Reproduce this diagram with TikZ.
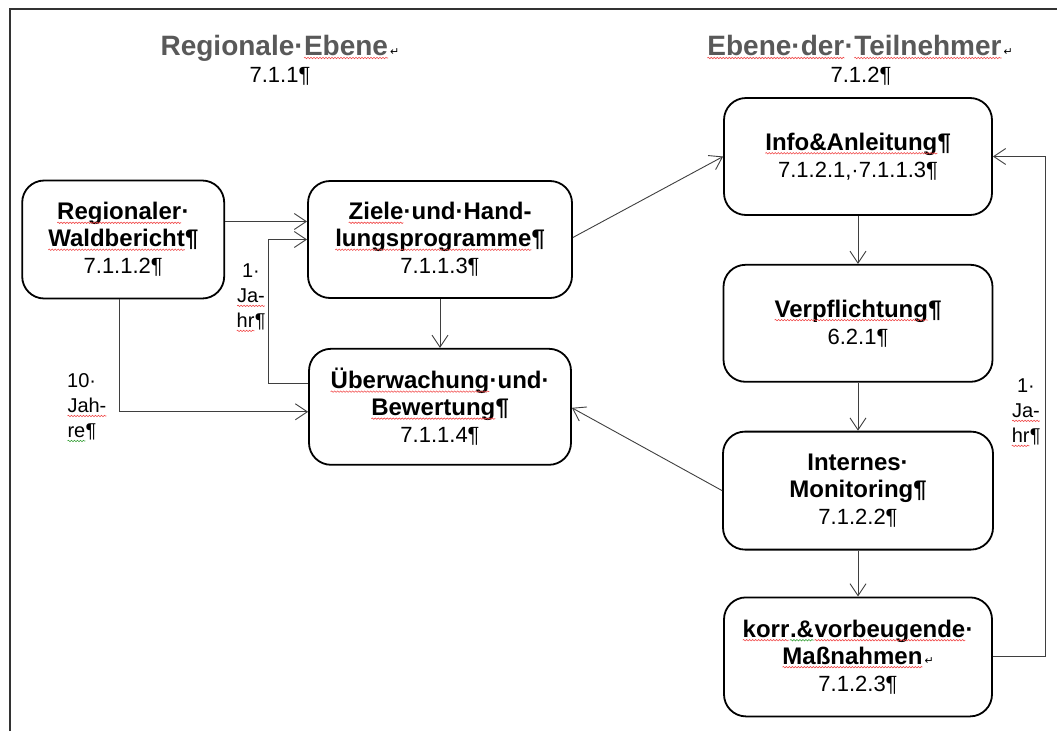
\documentclass[tikz,border=0pt]{standalone}
\usepackage{fontspec}
\setmainfont{Liberation Sans}
\newfontfamily\markfont{DejaVu Sans}
\usepackage{tikz}
\usetikzlibrary{positioning, arrows.meta, decorations.pathmorphing}
\usepackage{xcolor}
\definecolor{titlegray}{HTML}{595959}
\definecolor{linegray}{HTML}{3F3F3F}
\definecolor{spellred}{HTML}{F04848}
\definecolor{spellgreen}{HTML}{38A038}
\newcommand{\crmark}{{\color{black}\markfont\mdseries\fontsize{11}{11}\selectfont\,↵}}
\newcommand{\numfont}{\mdseries\fontsize{22}{27}\selectfont}
\newcommand{\wavy}[2]{\tikz[baseline=(w.base),x=1pt,y=1pt,sharp corners]{\node[shape=rectangle,draw=none,fill=none,
	inner sep=0pt,outer sep=0pt,minimum width=0pt,minimum height=0pt] (w) {#2};
	\draw[#1,line width=0.6pt,solid,decorate,decoration={snake,segment length=3pt,amplitude=0.7pt}]
	([yshift=-3pt]w.base west) -- ([yshift=-3pt]w.base east);}}
\newcommand{\spell}[1]{\wavy{spellred}{#1}}
\newcommand{\spellg}[1]{\wavy{spellgreen}{#1}}

\begin{document}
\begin{tikzpicture}[x=1pt,y=-1pt,
	box/.style={draw,line width=1.8pt,rounded corners=22pt,align=center,
		font=\fontsize{24}{27}\selectfont\bfseries,inner sep=0pt},
	conn/.style={draw=linegray,line width=0.9pt,-{Straight Barb[length=12pt,width=16pt]}},
	lbl/.style={font=\fontsize{20}{25}\selectfont,align=center,inner sep=0pt},
	ttl/.style={font=\fontsize{28}{32}\selectfont\bfseries,text=titlegray,anchor=base,inner sep=0pt},
	ttlnum/.style={font=\fontsize{22}{27}\selectfont,anchor=base,inner sep=0pt}]
	\useasboundingbox (0,0) rectangle (1057,731);
	\draw[line width=1.8pt,black!80] (10,731) -- (10,9) -- (1057,9);
	\node[ttl] (regio) at (280,55) {Regionale·\spell{Ebene}\crmark};
	\node[ttlnum] (regionum) at (280,82) {7.1.1¶};
	\node[ttl] (teiln) at (860,55) {\spell{Ebene·der}·\spell{Teilnehmer}\crmark};
	\node[ttlnum] (teilnnum) at (861,82) {7.1.2¶};
	\node[box,minimum width=264pt,minimum height=117pt] (ziele) at (440,239.5)
	{\spell{Ziele}·und·Hand-\\\spell{lungsprogramme}¶\\\numfont 7.1.1.3¶};
	\node[box,minimum width=202pt,minimum height=118pt,left=82pt of ziele] (wald)
	{\spell{Regionaler}·\\\spell{Waldbericht}¶\\\numfont 7.1.1.2¶};
	\node[box,minimum width=262pt,minimum height=116pt,below=49pt of ziele] (ueber)
	{\spell{Überwachung}·und·\\\spell{Bewertung}¶\\\numfont 7.1.1.4¶};
	\node[box,minimum width=268pt,minimum height=117pt] (info) at (858,156.5)
	{\spell{Info\&Anleitung}¶\\\numfont 7.1.2.1,·7.1.1.3¶};
	\node[box,minimum width=269pt,minimum height=117pt,below=48pt of info] (verpf)
	{\spell{Verpflichtung}¶\\\numfont 6.2.1¶};
	\node[box,minimum width=270pt,minimum height=118pt,below=48pt of verpf] (intern)
	{Internes·\\Monitoring¶\\\numfont 7.1.2.2¶};
	\node[box,minimum width=268pt,minimum height=119pt,below=46pt of intern] (korr)
	{\spell{korr}\spellg{.\&}\spell{vorbeugende}·\\\spell{Maßnahmen}\crmark\\\numfont 7.1.2.3¶};
	\draw[conn] ([yshift=18pt]wald.east) -- ([yshift=18pt]ziele.west);
	\draw[conn] ([yshift=23pt]ueber.west) -- ++(-40,0) |- (ziele.west);
	\draw[conn] ([xshift=-4pt]wald.south) |- ([yshift=-5pt]ueber.west);
	\draw[conn] (ziele.south) -- (ueber.north);
	\draw[conn] ([yshift=2pt]ziele.east) -- (info.west);
	\draw[conn] (intern.west) -- ([yshift=-1pt]ueber.east);
	\foreach \A/\B in {info/verpf,verpf/intern,intern/korr}
	{\draw[conn] (\A.south) -- (\B.north);}
	\draw[conn] (korr.east) -- ++(53,0) |- (info.east);
	\node[lbl] (jahrl) at (251,298) {1·\\\spell{Ja-}\\\spell{hr}¶};
	\node[lbl,align=left,anchor=west] (jahrz) at (67,408) {10·\\\spell{Jah-}\\\spellg{re}¶};
	\node[lbl] (jahrr) at (1026,413) {1·\\\spell{Ja-}\\\spell{hr}¶};
\end{tikzpicture}
\end{document}
